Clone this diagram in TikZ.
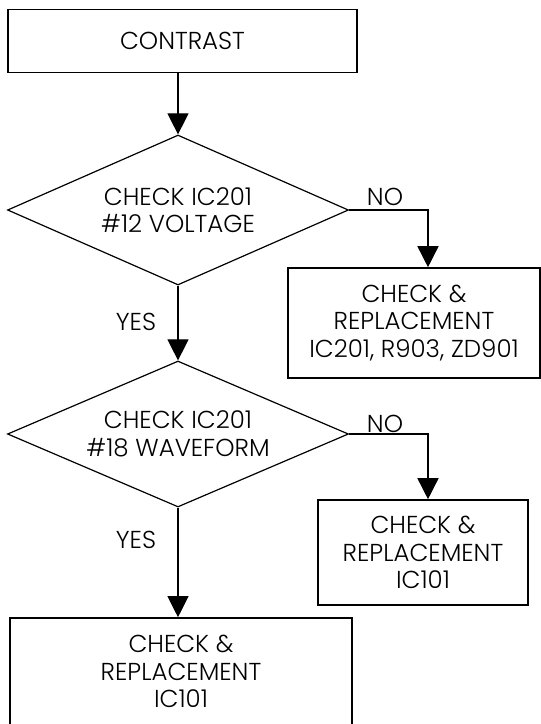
\documentclass[tikz,border=0pt]{standalone}
\usepackage{fontspec}
\setmainfont{Poppins}[UprightFont={* Light}]
\usetikzlibrary{shapes.geometric,arrows.meta}
\newcommand\flowfont{\fontsize{24.5}{27.5}\selectfont}
\begin{document}
\begin{tikzpicture}[x=1pt,y=-1pt,
  box/.style={draw,line width=1.6pt,rectangle,inner sep=0pt,align=center,font=\flowfont},
  dec/.style={draw,line width=1.2pt,diamond,inner sep=0pt,aspect=2.3,align=center,font=\flowfont},
  conn/.style={line width=1.1pt,-{Triangle[width=21pt,length=21pt]}},
  lbl/.style={font=\flowfont,inner sep=0pt}]
\useasboundingbox (0,0) rectangle (541,724);
\node[box,minimum width=349pt,minimum height=63pt] (top) at (182.5,41) {CONTRAST};
\node[dec,minimum width=341pt,minimum height=150pt] (d1) at (178,210) {CHECK IC201\\\#12 VOLTAGE};
\node[box,minimum width=252pt,minimum height=110pt] (b2) at (414,323) {CHECK \&\\REPLACEMENT\\IC201, R903, ZD901};
\node[dec,minimum width=341pt,minimum height=146pt] (d2) at (178,434) {CHECK IC201\\\#18 WAVEFORM};
\node[box,minimum width=210pt,minimum height=105pt] (b3) at (423,552.5) {CHECK \&\\REPLACEMENT\\IC101};
\node[box,minimum width=342pt,minimum height=107pt] (b4) at (181,671.5) {CHECK \&\\REPLACEMENT\\IC101};
\node[lbl] (no1) at (385,197) {NO};
\node[lbl] (yes1) at (136,322) {YES};
\node[lbl] (no2) at (385,424) {NO};
\node[lbl] (yes2) at (136,540) {YES};
\draw[conn] (d1.north |- top.south) -- (d1.north);
\draw[conn,line width=1.5pt] (d1.east) -| ([xshift=14pt]b2.north);
\draw[conn] (d1.south) -- (d2.north);
\draw[conn,line width=1.5pt] (d2.east) -| ([xshift=5pt]b3.north);
\draw[conn] (d2.south) -- (d2.south |- b4.north);
\end{tikzpicture}
\end{document}
